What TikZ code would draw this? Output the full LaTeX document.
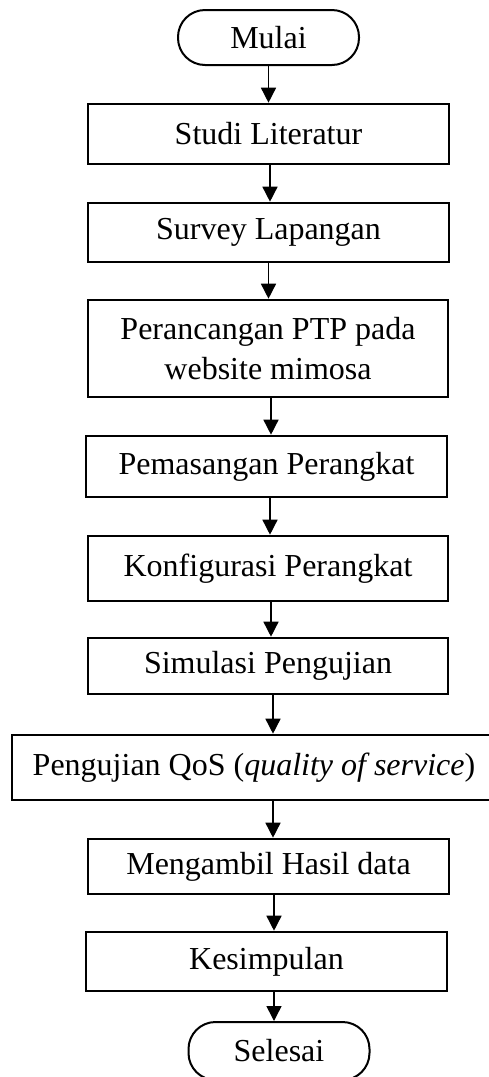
\documentclass[tikz,border=0pt]{standalone}
\usepackage{fontspec}
\setmainfont{Liberation Serif}
\usetikzlibrary{arrows.meta}
\begin{document}
\begin{tikzpicture}[x=1pt,y=-1pt,
  font=\fontsize{32}{40}\selectfont,
  procbox/.style={draw=black,line width=2.6pt,rectangle,inner sep=0pt,align=center,fill=white},
  termbox/.style={draw=black,line width=2pt,rectangle,rounded corners=27pt,inner sep=0pt,minimum width=181pt,minimum height=55pt},
  arr/.style={line width=1.5pt,-{Triangle[width=15pt,length=15pt]}}]
\useasboundingbox (0,0) rectangle (488,1077);
\node[termbox] (mulai) at (268.5,37.5) {Mulai};
\node[procbox,minimum width=361pt,minimum height=60pt] (studi) at (268.5,134) {Studi Literatur};
\node[procbox,minimum width=361pt,minimum height=59pt] (survey) at (268.5,232.5) {Survey Lapangan};
\node[procbox,minimum width=360pt,minimum height=97pt] (ptp) at (268,348.5) {Perancangan PTP pada\\website mimosa};
\node[procbox,minimum width=361pt,minimum height=61pt] (pasang) at (266.5,466.5) {Pemasangan Perangkat};
\node[procbox,minimum width=360pt,minimum height=65pt] (konfig) at (268,568.5) {Konfigurasi Perangkat};
\node[procbox,minimum width=360pt,minimum height=56pt] (simul) at (268,666) {Simulasi Pengujian};
\node[procbox,minimum width=484pt,minimum height=65pt] (qos) at (254,767.5) {Pengujian QoS (\textit{quality of service})};
\node[procbox,minimum width=361pt,minimum height=55pt] (hasil) at (268.5,866.5) {Mengambil Hasil data};
\node[procbox,minimum width=361pt,minimum height=59pt] (simpul) at (266.5,961.5) {Kesimpulan};
\node[termbox,minimum height=58pt] (selesai) at (279,1051) {Selesai};
\draw[arr] (mulai.south) -- (mulai.south |- studi.north);
\draw[arr] ([xshift=1.5pt]studi.south) -- ([xshift=1.5pt]studi.south |- survey.north);
\draw[arr] (survey.south) -- (survey.south |- ptp.north);
\draw[arr] ([xshift=3pt]ptp.south) -- ([xshift=3pt]ptp.south |- pasang.north);
\draw[arr] ([xshift=3.5pt]pasang.south) -- ([xshift=3.5pt]pasang.south |- konfig.north);
\draw[arr] ([xshift=3pt]konfig.south) -- ([xshift=3pt]konfig.south |- simul.north);
\draw[arr] ([xshift=5pt]simul.south) -- ([xshift=5pt]simul.south |- qos.north);
\draw[arr] ([xshift=19pt]qos.south) -- ([xshift=19pt]qos.south |- hasil.north);
\draw[arr] ([xshift=5.5pt]hasil.south) -- ([xshift=5.5pt]hasil.south |- simpul.north);
\draw[arr] ([xshift=7.5pt]simpul.south) -- ([xshift=7.5pt]simpul.south |- selesai.north);
\end{tikzpicture}
\end{document}
